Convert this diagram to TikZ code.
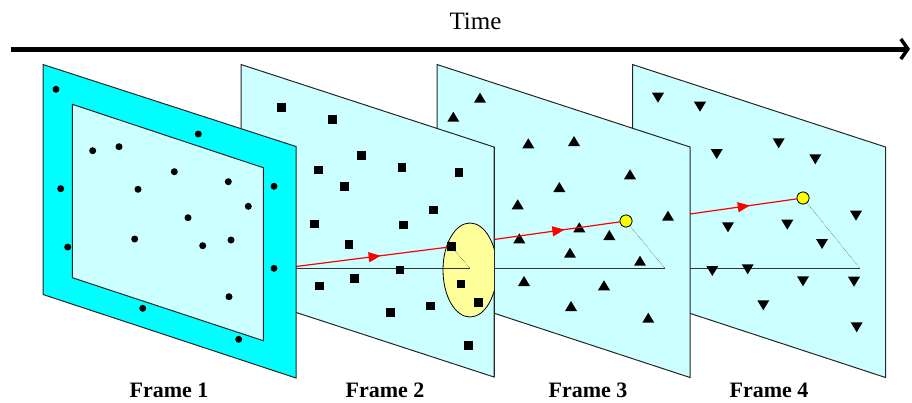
\documentclass[tikz,border=0pt]{standalone}
\usepackage{fontspec}
\setmainfont{Liberation Serif}
\usetikzlibrary{arrows.meta,decorations.markings}

\definecolor{cyanband}{RGB}{0,255,255}
\definecolor{paper}{RGB}{204,255,255}
\definecolor{lens}{RGB}{255,255,153}
\definecolor{hitfill}{RGB}{255,255,0}

\tikzset{
  sheet/.style={fill=paper, draw=black!85, line width=1pt},
  ray/.style={draw=black!80, line width=1pt},
  track/.style={draw=red, line width=1.2pt, postaction={decorate},
    decoration={markings, mark=at position 0.56 with {\arrow{Triangle[length=12pt,width=10pt]}}}},
  guide/.style={draw=black!75, line width=0.5pt, densely dotted},
  hit/.style={circle, draw=black, fill=hitfill, line width=0.7pt, minimum size=12pt, inner sep=0pt},
  blk/.style={rectangle, fill=black, minimum size=8.6pt, inner sep=0pt},
  lbl/.style={font=\fontsize{22}{26}\selectfont\bfseries, anchor=base, inner sep=0pt},
}

\begin{document}
\begin{tikzpicture}[x=1pt, y=-1pt]
  \useasboundingbox (0,0) rectangle (912,402);

  % time axis
  \coordinate (t0) at (11,49);
  \coordinate (t1) at (910,49);
  \draw[line width=5pt, -{Straight Barb[length=7pt,width=20pt,line width=3.5pt]}] (t0) -- (t1);
  \node[anchor=base, inner sep=0pt, font=\fontsize{25}{30}\selectfont] (time) at (475.5,29.3) {Time};

  % frame 4
  \draw[sheet] (632.5,64.5) -- (885.5,147) -- (885.5,377.5) -- (632.5,294.5) -- cycle;
  \coordinate (b4) at (690,268.5);
  \coordinate (e4) at (860,268.5);
  \coordinate (o4) at (690,214);
  \node[hit] (c4) at (803,198) {};
  \draw[ray] (b4) -- (e4);
  \draw[guide] (c4.center) -- (e4);
  \foreach \x/\y in {658/97.7, 700/106.7, 778.7/143.3, 716.7/154, 815.3/159.3,
      856/215.7, 728/227.3, 787.3/224.7, 822/244, 712.3/271, 747.7/269.3,
      803/281.3, 854/281.7, 763.3/305.3, 856.7/327.3}
    \fill (\x,\y+5) -- (\x+6,\y-5) -- (\x-6,\y-5) -- cycle;
  \draw[track] (o4) -- (c4);
  \node[hit] at (c4) {};

  % frame 3
  \draw[sheet] (437,64.5) -- (690,147) -- (690,377.5) -- (437,294.5) -- cycle;
  \coordinate (b3) at (494,268.5);
  \coordinate (e3) at (665,268.5);
  \coordinate (o3) at (494,239.5);
  \node[hit] (c3) at (626,221) {};
  \draw[ray] (b3) -- (e3);
  \draw[guide] (c3.center) -- (e3);
  \foreach \x/\y in {480/97.7, 453.3/116.7, 528.3/143.3, 574/141, 630/174.3,
      559.3/187, 517.7/204.3, 668/215.7, 579.3/227.3, 609.3/235, 519.3/238.3,
      570/252.7, 640/260.7, 524/281, 604/285.3, 571/306, 648.3/317.7}
    \fill (\x,\y-5) -- (\x+6,\y+5) -- (\x-6,\y+5) -- cycle;
  \draw[track] (o3) -- (c3);
  \node[hit] at (c3) {};

  % frame 2
  \draw[sheet] (241,64.5) -- (494,147) -- (494,377) -- (241,294.5) -- cycle;
  \begin{scope}
    \clip (241,64.5) -- (494,147) -- (494,377) -- (241,294.5) -- cycle;
    \draw[fill=lens, line width=0.8pt] (470,270) ellipse (27 and 47);
  \end{scope}
  \draw[line width=1pt, draw=black!85] (494,147) -- (494,377);
  \coordinate (b2) at (296,268.5);
  \coordinate (e2) at (470,268.5);
  \coordinate (o2) at (296,266.5);
  \node[blk] (s2) at (451.7,246.7) {};
  \draw[ray] (b2) -- (e2);
  \draw[guide] (s2.center) -- (e2);
  \foreach \x/\y in {281.7/107.3, 332.3/119.7, 361.3/155.7, 318.7/170, 402/167.7,
      459/172.7, 344.3/186.7, 433.7/210, 314.7/224, 403.3/225, 349/244.3,
      400/270, 354.7/278.3, 319.3/286, 461/284, 478.3/302.7, 430.7/306,
      390.7/312.7, 468.7/345.7}
    \fill (\x-4.3,\y-4.3) rectangle ++(8.6,8.6);
  \draw[track] (o2) -- (s2);

  % frame 1
  \draw[fill=cyanband, draw=black!85, line width=1pt]
    (43,64.5) -- (296,146.5) -- (296,378) -- (43,294.5) -- cycle;
  \draw[sheet] (72.3,104.3) -- (263.3,167.7) -- (263.3,340.7) -- (72.3,277.7) -- cycle;
  \foreach \x/\y in {56/89.3, 198.3/134, 92.7/150.7, 119/146.7, 174.3/171.7,
      228.3/181.7, 60.7/188.7, 138/189.3, 274/186.3, 248.3/206.3, 188/217.7,
      134.7/239, 202.7/245.7, 231/240, 67.7/247, 274/268.3, 229/296.7,
      142.7/308.3, 238.7/339.3}
    \fill (\x,\y) circle (3.5);

  % labels
  \node[lbl] (f1) at (169,397) {Frame 1};
  \node[lbl] (f2) at (385,397) {Frame 2};
  \node[lbl] (f3) at (588,397) {Frame 3};
  \node[lbl] (f4) at (769,397) {Frame 4};
\end{tikzpicture}
\end{document}
